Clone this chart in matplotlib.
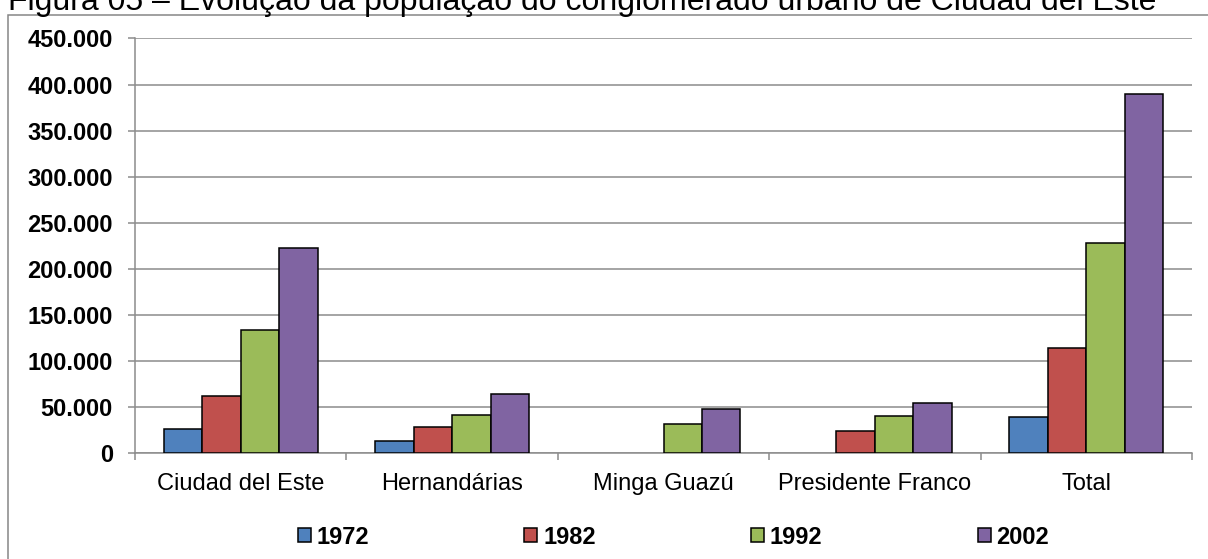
import numpy as np
import matplotlib
matplotlib.use("Agg")
import matplotlib.pyplot as plt
from matplotlib.patches import Rectangle, Patch
from matplotlib.ticker import FuncFormatter

plt.rcParams["font.family"] = ["Liberation Sans", "DejaVu Sans"]

# dados
cidades = ["Ciudad del Este", "Hernandárias", "Minga Guazú", "Presidente Franco", "Total"]
anos = ["1972", "1982", "1992", "2002"]
pop_1972 = [26500, 13000, np.nan, np.nan, 39000]
pop_1982 = [62000, 28500, np.nan, 23700, 114000]
pop_1992 = [133800, 42000, 31800, 40500, 228000]
pop_2002 = [223000, 64200, 48200, 54400, 390000]
series = [pop_1972, pop_1982, pop_1992, pop_2002]
cores = ["#4F81BD", "#C0504D", "#9BBB59", "#8064A2"]

W, H = 1208, 559
fig = plt.figure(figsize=(W / 100, H / 100), dpi=100)

# moldura externa do gráfico
fig.patches.append(Rectangle((8 / W, -0.5), 2, 1.5 - 14.7 / H, transform=fig.transFigure,
                             fill=False, edgecolor="#868686", linewidth=1.1))

# título (cortado no topo, como na figura original)
fig.text(8 / W, 1 - 10 / H, "Figura 05 – Evolução da população do conglomerado urbano de Ciudad del Este",
         fontsize=23, va="baseline", ha="left", color="black")

ax = fig.add_axes([135 / W, 105.7 / H, (1192 - 135) / W, (453.3 - 38.4) / H])

x = np.arange(len(cidades))
larg = 0.182
for i, (vals, cor) in enumerate(zip(series, cores)):
    ax.bar(x + (i - 1.5) * larg, vals, width=larg, color=cor, edgecolor="black",
           linewidth=1.1, zorder=3)

ax.set_xlim(-0.5, len(cidades) - 0.5)
ax.set_ylim(0, 450000)
ax.set_yticks(np.arange(0, 450001, 50000))
ax.yaxis.set_major_formatter(FuncFormatter(lambda v, p: f"{int(v):,}".replace(",", ".")))
ax.yaxis.grid(True, color="#8C8C8C", linewidth=1.1, zorder=0)

ax.set_xticks(x)
ax.set_xticklabels(cidades, fontsize=17)
ax.set_xticks(np.arange(-0.5, len(cidades)), minor=True)
ax.tick_params(axis="x", which="major", length=0, pad=14)
ax.tick_params(axis="x", which="minor", length=5, width=1.1, color="#8C8C8C", direction="out")
ax.tick_params(axis="y", length=5, width=1.1, color="#8C8C8C", direction="out", pad=11)
for t in ax.get_yticklabels():
    t.set_fontsize(17)
    t.set_fontweight("bold")

for s in ["top", "right"]:
    ax.spines[s].set_visible(False)
for s in ["left", "bottom"]:
    ax.spines[s].set_color("#8C8C8C")
    ax.spines[s].set_linewidth(1.1)

handles = [Patch(facecolor=c, edgecolor="black", linewidth=1.1) for c in cores]
fig.legend(handles, anos, loc="center", bbox_to_anchor=(673.5 / W, 1 - 537 / H), ncol=4,
           frameon=False, prop={"size": 17, "weight": "bold"}, handlelength=0.55,
           handleheight=0.55, handletextpad=0.25, columnspacing=6.57, borderpad=0)

fig.savefig("out.png", dpi=100)
